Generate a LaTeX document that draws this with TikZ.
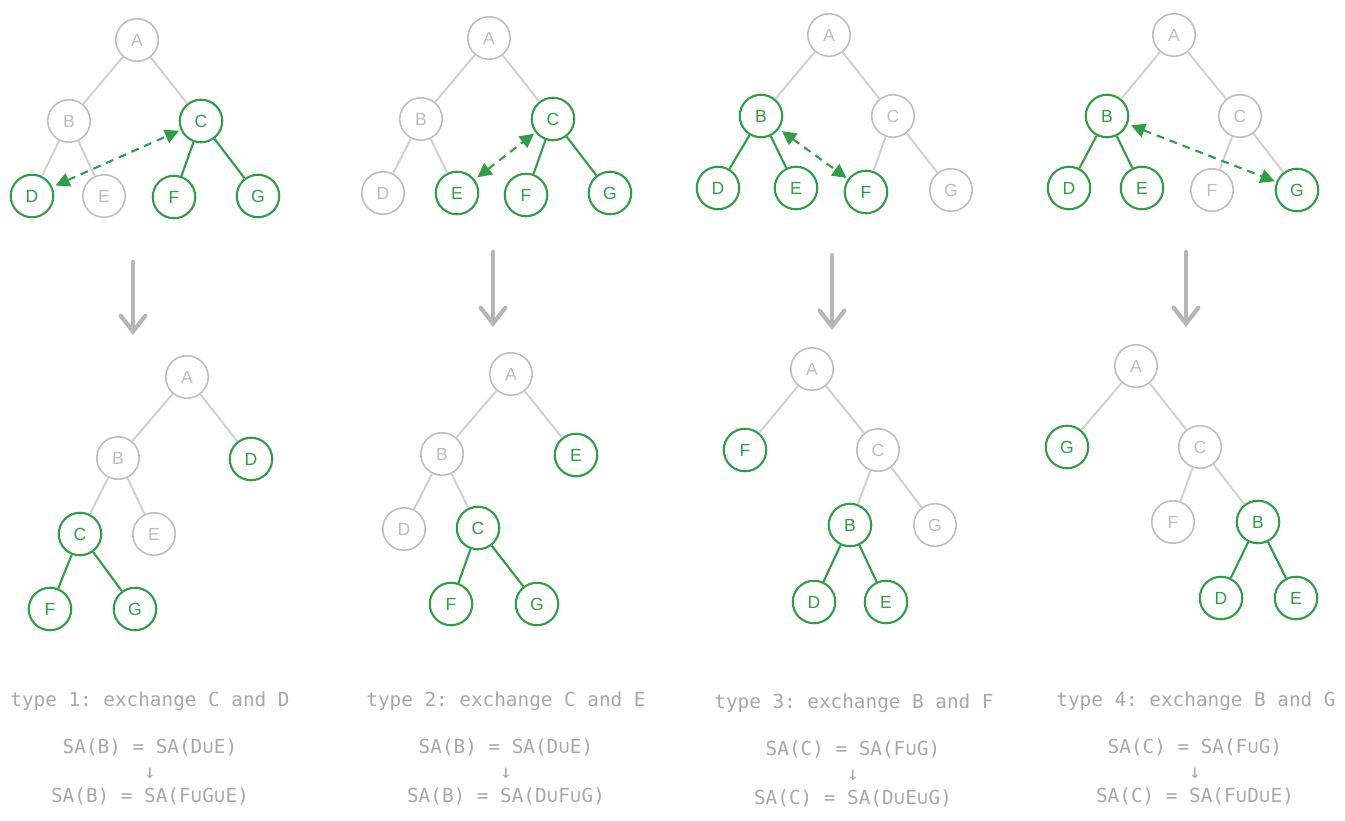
\documentclass[tikz,border=0pt]{standalone}
\usepackage{fontspec}
\usepackage{tikz}
\usetikzlibrary{arrows.meta}
\setmainfont{Liberation Sans}
\newfontfamily\codefont{DejaVu Sans Mono}
\frenchspacing
\definecolor{swapgreen}{RGB}{47,158,68}
\definecolor{nodegray}{RGB}{190,190,190}
\definecolor{edgegray}{RGB}{208,208,208}
\definecolor{textgray}{RGB}{168,168,168}
\definecolor{arrowgray}{RGB}{182,182,182}

\begin{document}
\begin{tikzpicture}[x=0.02cm,y=-0.02cm]
        \useasboundingbox (0,0) rectangle (1345,821);
        \tikzset{vertex/.style={shape=circle, draw=nodegray, text=nodegray,
            line width=0.9pt, minimum size=0.85cm, inner sep=0pt,
            font=\fontsize{10}{11}\selectfont}}
        \tikzset{hot/.style={draw=swapgreen, text=swapgreen, line width=1.2pt}}
        \tikzset{link/.style={draw=edgegray, line width=1.1pt}}
        \tikzset{hotlink/.style={draw=swapgreen, line width=1.2pt}}
        \tikzset{swaparrow/.style={draw=swapgreen, line width=1.2pt,
            dash pattern=on 4.5pt off 3.4pt, shorten <=2pt, shorten >=1pt,
            {Triangle[length=8pt,width=8pt]}-{Triangle[length=8pt,width=8pt]}}}
        \tikzset{steparrow/.style={draw=arrowgray, line width=2.4pt, line cap=round,
            -{Straight Barb[length=9pt,width=14pt,line cap=round]}}}
        \tikzset{caption/.style={text=textgray, font=\codefont\fontsize{11}{14}\selectfont}}
        \tikzset{formula/.style={caption, align=center}}
        % type 1, before
        \node[vertex] (A1) at (137,40) {A};
        \node[vertex] (B1) at (69,121) {B};
        \node[vertex,hot] (C1) at (201,121) {C};
        \node[vertex,hot] (D1) at (32,196) {D};
        \node[vertex] (E1) at (104,196) {E};
        \node[vertex,hot] (F1) at (174,197) {F};
        \node[vertex,hot] (G1) at (258,196) {G};
        \draw[link] (A1) -- (B1); \draw[link] (A1) -- (C1);
        \draw[link] (B1) -- (D1); \draw[link] (B1) -- (E1);
        \draw[hotlink] (C1) -- (F1); \draw[hotlink] (C1) -- (G1);
        \draw[swaparrow] (D1) -- (C1);
        % type 1, after
        \node[vertex] (A1x) at (187,377) {A};
        \node[vertex] (B1x) at (118,458) {B};
        \node[vertex,hot] (D1x) at (251,459) {D};
        \node[vertex,hot] (C1x) at (80,534) {C};
        \node[vertex] (E1x) at (154,534) {E};
        \node[vertex,hot] (F1x) at (50,609) {F};
        \node[vertex,hot] (G1x) at (135,609) {G};
        \draw[link] (A1x) -- (B1x); \draw[link] (A1x) -- (D1x);
        \draw[link] (B1x) -- (C1x); \draw[link] (B1x) -- (E1x);
        \draw[hotlink] (C1x) -- (F1x); \draw[hotlink] (C1x) -- (G1x);
        % type 2, before
        \node[vertex] (A2) at (489,38) {A};
        \node[vertex] (B2) at (421,119) {B};
        \node[vertex,hot] (C2) at (553,119) {C};
        \node[vertex] (D2) at (383,193) {D};
        \node[vertex,hot] (E2) at (457,193) {E};
        \node[vertex,hot] (F2) at (526,195) {F};
        \node[vertex,hot] (G2) at (610,193) {G};
        \draw[link] (A2) -- (B2); \draw[link] (A2) -- (C2);
        \draw[link] (B2) -- (D2); \draw[link] (B2) -- (E2);
        \draw[hotlink] (C2) -- (F2); \draw[hotlink] (C2) -- (G2);
        \draw[swaparrow] (E2) -- (C2);
        % type 2, after
        \node[vertex] (A2x) at (511,374) {A};
        \node[vertex] (B2x) at (442,454) {B};
        \node[vertex,hot] (E2x) at (576,455) {E};
        \node[vertex] (D2x) at (404,529) {D};
        \node[vertex,hot] (C2x) at (478,528) {C};
        \node[vertex,hot] (F2x) at (451,604) {F};
        \node[vertex,hot] (G2x) at (537,604) {G};
        \draw[link] (A2x) -- (B2x); \draw[link] (A2x) -- (E2x);
        \draw[link] (B2x) -- (D2x); \draw[link] (B2x) -- (C2x);
        \draw[hotlink] (C2x) -- (F2x); \draw[hotlink] (C2x) -- (G2x);
        % type 3, before
        \node[vertex] (A3) at (829,35) {A};
        \node[vertex,hot] (B3) at (761,116) {B};
        \node[vertex] (C3) at (893,116) {C};
        \node[vertex,hot] (D3) at (718,188) {D};
        \node[vertex,hot] (E3) at (796,188) {E};
        \node[vertex,hot] (F3) at (866,192) {F};
        \node[vertex] (G3) at (951,190) {G};
        \draw[link] (A3) -- (B3); \draw[link] (A3) -- (C3);
        \draw[hotlink] (B3) -- (D3); \draw[hotlink] (B3) -- (E3);
        \draw[link] (C3) -- (F3); \draw[link] (C3) -- (G3);
        \draw[swaparrow] (B3) -- (F3);
        % type 3, after
        \node[vertex] (A3x) at (812,369) {A};
        \node[vertex,hot] (F3x) at (745,450) {F};
        \node[vertex] (C3x) at (878,450) {C};
        \node[vertex,hot] (B3x) at (850,525) {B};
        \node[vertex] (G3x) at (935,525) {G};
        \node[vertex,hot] (D3x) at (814,602) {D};
        \node[vertex,hot] (E3x) at (886,602) {E};
        \draw[link] (A3x) -- (F3x); \draw[link] (A3x) -- (C3x);
        \draw[link] (C3x) -- (B3x); \draw[link] (C3x) -- (G3x);
        \draw[hotlink] (B3x) -- (D3x); \draw[hotlink] (B3x) -- (E3x);
        % type 4, before
        \node[vertex] (A4) at (1174,35) {A};
        \node[vertex,hot] (B4) at (1107,116) {B};
        \node[vertex] (C4) at (1240,116) {C};
        \node[vertex,hot] (D4) at (1069,188) {D};
        \node[vertex,hot] (E4) at (1142,188) {E};
        \node[vertex] (F4) at (1212,190) {F};
        \node[vertex,hot] (G4) at (1297,190) {G};
        \draw[link] (A4) -- (B4); \draw[link] (A4) -- (C4);
        \draw[hotlink] (B4) -- (D4); \draw[hotlink] (B4) -- (E4);
        \draw[link] (C4) -- (F4); \draw[link] (C4) -- (G4);
        \draw[swaparrow] (B4) -- (G4);
        % type 4, after
        \node[vertex] (A4x) at (1136,366) {A};
        \node[vertex,hot] (G4x) at (1067,447) {G};
        \node[vertex] (C4x) at (1200,447) {C};
        \node[vertex] (F4x) at (1173,522) {F};
        \node[vertex,hot] (B4x) at (1258,522) {B};
        \node[vertex,hot] (D4x) at (1221,598) {D};
        \node[vertex,hot] (E4x) at (1296,598) {E};
        \draw[link] (A4x) -- (G4x); \draw[link] (A4x) -- (C4x);
        \draw[link] (C4x) -- (F4x); \draw[link] (C4x) -- (B4x);
        \draw[hotlink] (B4x) -- (D4x); \draw[hotlink] (B4x) -- (E4x);
        % before -> after
        \coordinate (s1) at (133,262); \coordinate (e1) at (133,335);
        \coordinate (s2) at (493,252); \coordinate (e2) at (493,327);
        \coordinate (s3) at (832,255); \coordinate (e3) at (832,330);
        \coordinate (s4) at (1186,252); \coordinate (e4) at (1186,327);
        \draw[steparrow] (s1) -- (e1);
        \draw[steparrow] (s2) -- (e2);
        \draw[steparrow] (s3) -- (e3);
        \draw[steparrow] (s4) -- (e4);
        % captions
        \node[caption] (t1) at (150,701) {type 1: exchange C and D};
        \node[caption] (t2) at (506,701) {type 2: exchange C and E};
        \node[caption] (t3) at (854,703) {type 3: exchange B and F};
        \node[caption] (t4) at (1196,701) {type 4: exchange B and G};
        \node[formula] (f1) at (150,772) {SA(B) = SA(D∪E)\\↓\\SA(B) = SA(F∪G∪E)};
        \node[formula] (f2) at (506,772) {SA(B) = SA(D∪E)\\↓\\SA(B) = SA(D∪F∪G)};
        \node[formula] (f3) at (853,774) {SA(C) = SA(F∪G)\\↓\\SA(C) = SA(D∪E∪G)};
        \node[formula] (f4) at (1195,772) {SA(C) = SA(F∪G)\\↓\\SA(C) = SA(F∪D∪E)};
    \end{tikzpicture}
\end{document}
